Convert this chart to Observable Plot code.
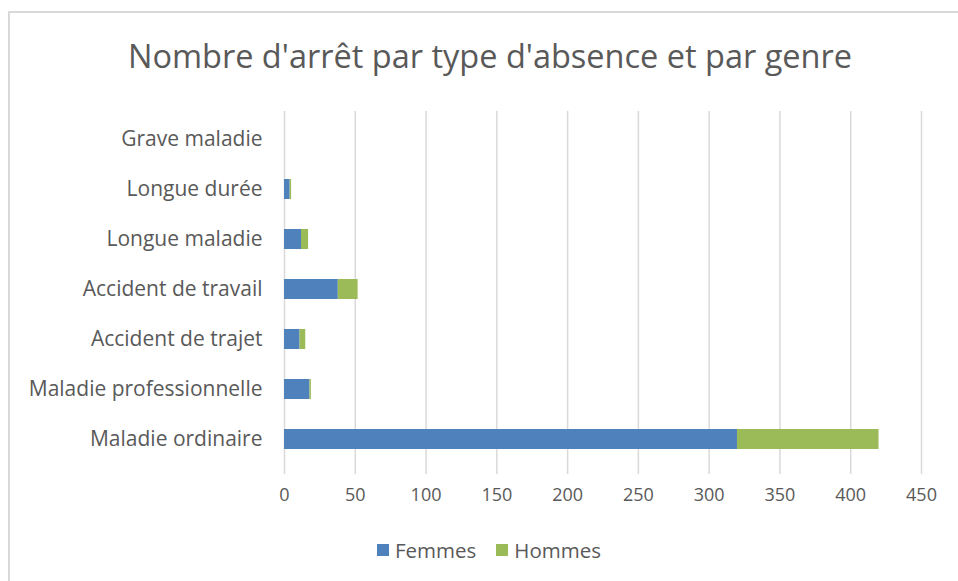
<!DOCTYPE html>
<html>
<head>
<meta charset="utf-8">
<script src="https://cdn.jsdelivr.net/npm/d3@7"></script>
<script src="https://cdn.jsdelivr.net/npm/@observablehq/plot@0.6"></script>
<style>
  body { margin: 0; background: #fff; font-family: "Open Sans", sans-serif; color: #595959; }
  #wrap { position: relative; width: 958px; height: 581px; overflow: hidden; background: #fff; }
  #frame { position: absolute; left: 8px; top: 11px; right: -10px; bottom: -10px; border-top: 2.5px solid #d9d9d9; border-left: 2.5px solid #d9d9d9; }
  #title { position: absolute; left: 0; width: 980px; top: 33px; text-align: center; font-size: 32.5px; color: #595959; white-space: nowrap; }
  #chart { position: absolute; left: 0; top: 91px; }
  #legend { position: absolute; left: 0; width: 978px; top: 534px; text-align: center; font-size: 20.5px; color: #595959; }
  .item { display: inline-flex; align-items: center; margin: 0 10px; }
  .sw { display: inline-block; width: 12px; height: 12px; margin-right: 6px; }
</style>
</head>
<body>
<div id="wrap">
  <div id="frame"></div>
  <div id="title">Nombre d'arrêt par type d'absence et par genre</div>
  <div id="chart"></div>
  <div id="legend"></div>
</div>
<script>
const categories = ["Grave maladie", "Longue durée", "Longue maladie", "Accident de travail", "Accident de trajet", "Maladie professionnelle", "Maladie ordinaire"];
const femmes = [0, 4, 12, 38, 11, 18, 320];
const hommes = [0, 1, 5, 14, 4, 1, 100];
const series = ["Femmes", "Hommes"];
const colors = ["#4F81BD", "#9BBB59"];
const xTicks = [0, 50, 100, 150, 200, 250, 300, 350, 400, 450];

const data = [];
categories.forEach((c, i) => {
  data.push({type: c, genre: "Femmes", value: femmes[i]});
  data.push({type: c, genre: "Hommes", value: hommes[i]});
});

const plot = Plot.plot({
  width: 958,
  height: 420,
  marginLeft: 284,
  marginRight: 37,
  marginTop: 20,
  marginBottom: 37,
  style: { fontFamily: "Open Sans, sans-serif", fontSize: "18px", color: "#595959", background: "transparent" },
  x: { domain: [0, 450], ticks: xTicks, label: null },
  y: { domain: categories, paddingInner: 0.61, paddingOuter: 0.305, insetBottom: 7, label: null },
  color: { domain: series, range: colors },
  marks: [
    Plot.gridX(xTicks, { stroke: "#d9d9d9", strokeOpacity: 1, strokeWidth: 1.5 }),
    Plot.barX(data, { y: "type", x: "value", fill: "genre", order: series }),
    Plot.axisX({ ticks: xTicks, tickSize: 0, tickPadding: 14, label: null, fontSize: 18, fill: "#595959" }),
    Plot.axisY({ tickSize: 0, tickPadding: 22, label: null, fontSize: 21, fill: "#595959" })
  ]
});
document.getElementById("chart").appendChild(plot);

const legend = document.getElementById("legend");
series.forEach((s, i) => {
  const item = document.createElement("span");
  item.className = "item";
  const sw = document.createElement("span");
  sw.className = "sw";
  sw.style.background = colors[i];
  item.appendChild(sw);
  item.appendChild(document.createTextNode(s));
  legend.appendChild(item);
});
</script>
</body>
</html>
